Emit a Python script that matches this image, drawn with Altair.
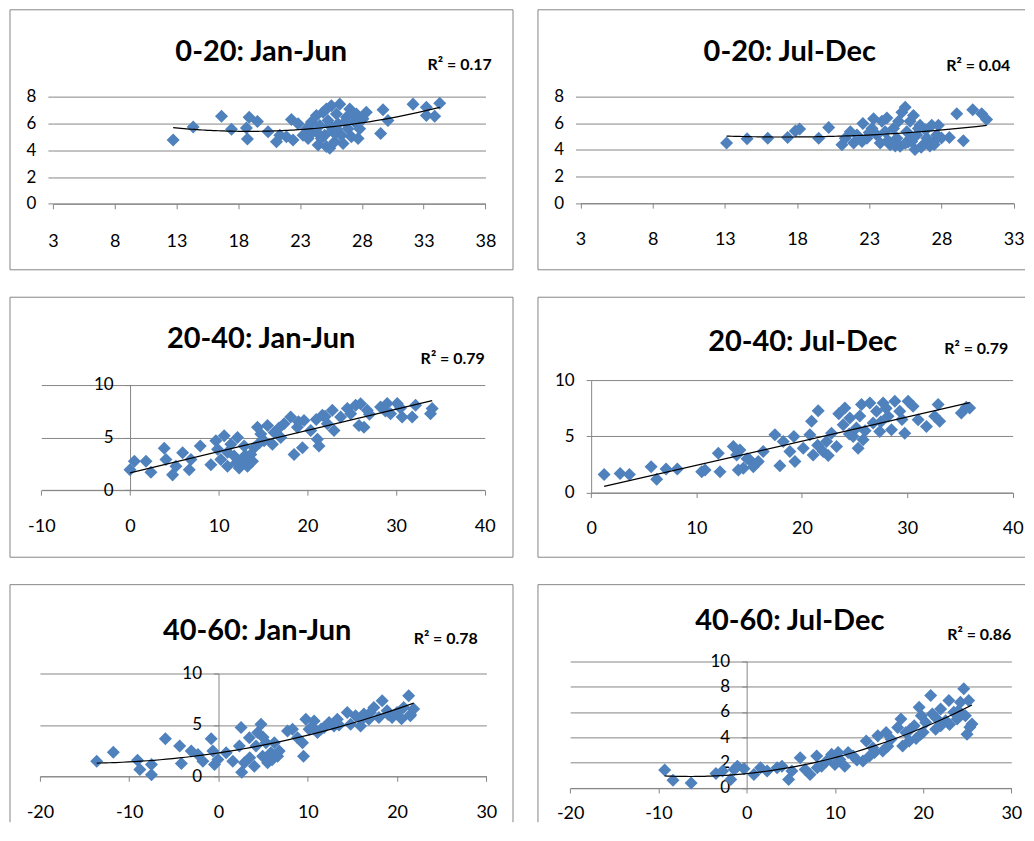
import altair as alt
import pandas as pd

BLUE = "#4F81BD"
GRAY = "#868686"
FONT = "Lato"

titles = ["0-20: Jan-Jun", "0-20: Jul-Dec", "20-40: Jan-Jun", "20-40: Jul-Dec", "40-60: Jan-Jun", "40-60: Jul-Dec"]
r2_labels = ["R² = 0.17", "R² = 0.04", "R² = 0.79", "R² = 0.79", "R² = 0.78", "R² = 0.86"]
x_ticks = [[3, 8, 13, 18, 23, 28, 33, 38], [3, 8, 13, 18, 23, 28, 33], [-10, 0, 10, 20, 30, 40],
           [0, 10, 20, 30, 40], [-20, -10, 0, 10, 20, 30], [-20, -10, 0, 10, 20, 30]]
y_ticks = [[0, 2, 4, 6, 8], [0, 2, 4, 6, 8], [0, 5, 10], [0, 5, 10], [0, 5, 10], [0, 2, 4, 6, 8, 10]]
fit = ["poly", "poly", "linear", "linear", "poly", "poly"]

p1_x = [12.73, 14.35, 16.64, 17.45, 18.66, 18.74, 18.88, 19.55, 20.41, 21.09, 21.36, 21.89, 22.3, 22.43, 22.84,
        23.24, 23.51, 23.92, 24.05, 24.32, 24.46, 24.59, 24.86, 24.99, 25.13, 25.26, 25.4, 25.53, 25.61, 25.8,
        25.94, 26.07, 26.21, 26.34, 26.48, 26.75, 26.88, 27.02, 27.15, 27.42, 27.56, 27.69, 27.82, 28.36, 29.71,
        30.11, 29.52, 32.14, 33.22, 33.22, 33.89, 34.3,
        23.65, 24.72, 25.8, 26.62, 25.4, 24.32, 27.29, 28.09, 25.13, 25.94]
p1_y = [4.76, 5.73, 6.54, 5.56, 5.66, 4.83, 6.46, 6.15, 5.37, 4.63, 5.12, 5.0, 6.29, 4.76, 5.98,
        5.12, 5.61, 6.1, 5.37, 6.59, 4.39, 5.85, 6.83, 5.12, 4.27, 6.22, 4.15, 7.32, 5.49, 4.63,
        6.71, 5.98, 7.44, 5.12, 4.51, 6.46, 5.61, 7.07, 5.0, 6.1, 6.71, 4.88, 5.61, 6.83, 7.02,
        6.22, 5.24, 7.44, 7.2, 6.59, 6.54, 7.51,
        4.88, 4.88, 5.24, 6.1, 5.85, 5.37, 6.59, 6.34, 7.07, 5.61]

p2_x = [13.12, 14.54, 15.97, 17.35, 17.88, 18.18, 19.5, 20.19, 21.11, 21.34, 21.69, 21.92, 22.15, 22.5, 22.56,
        22.84, 23.19, 23.3, 23.53, 23.76, 23.88, 24.1, 24.22, 24.45, 24.68, 24.91, 25.03, 25.14, 25.26, 25.49,
        25.6, 25.83, 25.94, 26.06, 26.17, 26.29, 26.52, 26.75, 26.99, 27.33, 27.45, 27.79, 27.68, 28.55, 29.06,
        29.52, 30.17, 30.79, 31.13,
        25.7, 26.4, 24.3, 23.0, 26.9, 27.2, 24.8, 25.5, 26.6, 27.5, 28.0, 25.9]
p2_y = [4.51, 4.83, 4.88, 4.93, 5.41, 5.56, 4.88, 5.68, 4.39, 4.88, 5.37, 4.51, 5.12, 4.63, 5.98,
        4.88, 5.61, 6.34, 5.12, 4.51, 6.15, 5.37, 6.39, 4.39, 5.61, 4.88, 6.15, 4.27, 6.83, 7.2,
        5.37, 6.15, 4.63, 6.59, 4.02, 5.12, 5.85, 4.39, 4.88, 5.85, 4.63, 5.85, 5.12, 4.93, 6.71,
        4.68, 7.02, 6.71, 6.29,
        4.6, 5.6, 4.7, 5.3, 5.5, 4.3, 4.3, 4.5, 4.2, 4.4, 4.9, 4.9]

p3_x = [0.0, 0.49, 1.8, 2.36, 3.86, 4.05, 4.8, 5.18, 5.93, 6.68, 6.87, 7.92, 9.12, 9.68, 9.87,
        10.24, 10.62, 10.99, 11.37, 11.74, 12.12, 12.31, 12.68, 12.87, 13.25, 13.62, 13.81, 14.0, 14.37, 14.75,
        15.12, 15.5, 16.06, 16.25, 17.0, 17.37, 18.12, 18.5, 18.87, 19.44, 19.62, 20.38, 21.13, 21.31, 21.69,
        22.25, 22.81, 23.0, 23.75, 24.5, 24.88, 25.44, 25.82, 26.38, 26.75, 28.25, 29.0, 29.38, 30.13, 30.68,
        31.82, 32.2, 33.88, 34.07,
        11.0, 13.0, 14.6, 16.8, 19.0, 21.0, 22.0, 26.0, 27.0, 28.8, 30.5, 12.0]
p3_y = [1.94, 2.74, 2.74, 1.71, 3.97, 2.9, 1.45, 2.26, 3.55, 1.94, 2.9, 4.19, 2.42, 4.68, 3.87,
        2.9, 5.16, 2.26, 4.35, 3.23, 5.0, 2.1, 2.9, 4.19, 2.26, 3.39, 2.74, 4.03, 5.97, 5.32,
        4.68, 6.13, 4.35, 5.48, 5.0, 6.29, 6.94, 3.39, 5.97, 4.03, 6.61, 5.65, 4.84, 4.19, 7.1,
        6.29, 7.58, 5.65, 6.94, 7.74, 7.26, 8.06, 6.13, 5.97, 7.58, 7.9, 8.23, 7.26, 8.23, 6.94,
        6.94, 8.06, 7.26, 7.74,
        3.6, 3.3, 4.5, 5.9, 6.5, 6.7, 7.0, 8.2, 7.2, 7.5, 7.8, 2.6]

p4_x = [1.23, 2.75, 3.63, 5.69, 6.22, 7.11, 8.18, 10.49, 10.81, 12.07, 12.23, 13.49, 13.81, 13.97, 14.12,
        14.44, 15.07, 15.39, 15.86, 16.33, 17.44, 17.91, 18.23, 18.86, 19.24, 19.34, 20.13, 20.76, 20.92, 21.07,
        21.55, 22.02, 22.34, 22.81, 23.29, 23.92, 24.08, 24.55, 24.87, 25.18, 25.34, 25.66, 25.81, 26.45, 26.76,
        27.08, 27.39, 27.71, 28.18, 28.5, 28.82, 29.29, 29.76, 30.08, 30.55, 31.03, 31.82, 32.61, 32.93, 33.08,
        35.13, 35.6, 35.92,
        24.5, 25.5, 26.0, 27.5, 28.0, 23.5, 29.5, 22.5, 21.5, 14.8]
p4_y = [1.61, 1.7, 1.61, 2.3, 1.19, 2.09, 2.09, 1.85, 2.0, 3.49, 1.85, 4.09, 3.34, 2.0, 3.79,
        2.15, 2.9, 2.3, 2.75, 3.64, 5.13, 2.39, 4.54, 3.64, 4.99, 2.75, 3.94, 5.13, 6.33, 3.34,
        7.28, 3.64, 4.54, 5.28, 4.09, 6.03, 7.52, 6.63, 4.99, 5.73, 3.94, 7.82, 4.69, 7.97, 6.18,
        7.22, 5.43, 7.97, 6.78, 5.58, 8.12, 7.22, 5.28, 8.12, 7.67, 6.48, 5.88, 6.78, 7.82, 6.33,
        7.07, 7.58, 7.52,
        5.2, 6.8, 5.5, 6.3, 7.5, 7.0, 6.5, 3.3, 4.2, 3.0]

p5_x = [-13.64, -11.78, -9.07, -8.81, -7.51, -7.51, -5.95, -4.35, -4.16, -3.05, -2.3, -1.75, -0.82, -0.63, -0.45,
        -0.07, 0.86, 1.6, 2.53, 2.34, 2.6, 2.9, 3.46, 4.01, 4.2, 4.39, 4.76, 4.94, 5.32, 5.5,
        5.87, 6.25, 6.62, 6.8, 7.73, 8.29, 8.85, 9.41, 9.52, 9.78, 10.15, 10.71, 11.08, 11.82, 12.38,
        12.94, 13.31, 14.42, 14.8, 15.35, 15.91, 16.28, 16.84, 17.4, 17.96, 18.33, 18.88, 19.44, 20.0, 20.74,
        21.3, 21.49, 21.86,
        3.5, 5.0, 6.0, 10.5, 11.5, 13.5, 16.0, 17.0, 19.0, 20.5, 21.5]
p5_y = [1.47, 2.35, 1.57, 0.65, 1.14, 0.16, 3.66, 2.94, 1.24, 2.45, 2.12, 1.47, 3.66, 2.45, 1.14,
        1.63, 2.29, 1.47, 4.74, 2.94, 0.39, 1.31, 3.76, 0.98, 2.94, 4.25, 5.07, 1.96, 3.27, 1.31,
        2.29, 3.27, 1.96, 2.45, 4.41, 4.58, 3.76, 3.27, 1.96, 5.56, 4.58, 5.39, 4.25, 4.74, 5.23,
        4.9, 5.56, 6.21, 5.07, 5.88, 4.9, 6.05, 5.56, 6.7, 5.72, 7.35, 6.37, 5.72, 6.21, 6.7,
        7.84, 5.88, 6.54,
        1.8, 3.8, 1.6, 4.8, 4.6, 5.0, 5.5, 6.2, 6.0, 5.6, 6.0]

p6_x = [-9.29, -8.35, -6.29, -3.48, -2.73, -1.8, -1.42, -1.05, -0.3, 0.82, 1.57, 2.32, 3.45, 4.0, 4.76,
        5.13, 6.07, 6.63, 7.19, 7.94, 8.5, 9.06, 9.63, 10.0, 10.37, 10.56, 11.12, 11.5, 12.06, 13.18,
        13.56, 13.93, 14.31, 14.87, 15.43, 15.81, 16.37, 17.12, 17.49, 17.68, 18.05, 18.43, 18.99, 19.55, 19.74,
        20.3, 20.86, 21.05, 21.42, 21.99, 22.55, 22.92, 23.48, 23.86, 24.23, 24.61, 24.79, 25.17, 24.98, 25.54,
        12.5, 14.5, 16.0, 18.5, 19.2, 20.0, 21.5, 22.0, 23.0, 24.0, 25.3, 19.8, 8.0]
p6_y = [1.41, 0.61, 0.4, 1.14, 1.33, 0.66, 1.46, 1.72, 1.51, 1.06, 1.59, 1.33, 1.59, 1.72, 0.66,
        1.33, 2.39, 1.46, 1.06, 2.52, 1.72, 2.12, 2.65, 1.86, 2.79, 2.25, 1.72, 2.79, 2.52, 2.12,
        3.71, 2.52, 3.18, 4.11, 2.92, 4.38, 3.85, 4.77, 5.44, 3.32, 4.38, 3.71, 4.91, 6.37, 4.24,
        5.17, 7.29, 5.84, 4.64, 6.23, 5.31, 6.9, 5.97, 5.44, 6.76, 7.82, 5.7, 6.9, 4.24, 5.04,
        2.2, 2.8, 3.3, 4.6, 3.9, 4.4, 5.5, 4.9, 5.0, 6.1, 4.8, 5.7, 1.6]

XS = [p1_x, p2_x, p3_x, p4_x, p5_x, p6_x]
YS = [p1_y, p2_y, p3_y, p4_y, p5_y, p6_y]

# Panel geometry in pixels. Each view is the whole bordered box (W x H);
# the data region inside it is [pl, pl+w] x [pt, pt+h]; zx = pixel offset of the y axis inside the data region.
LAYOUT = [
    dict(W=504, H=260.5, pl=43.0, pt=87.0, w=433.4, h=107.4, zx=0, ydom=False, xlp=24, sides="tlrb",
         tt=(251.7, 51.7), r2=(482.7, 60.7)),
    dict(W=488, H=260.5, pl=42.6, pt=87.0, w=434.0, h=106.7, zx=0, ydom=False, xlp=22.5, sides="tlb",
         tt=(252.3, 51.7), r2=(473.3, 61.7)),
    dict(W=504, H=260.5, pl=31.4, pt=87.7, w=444.3, h=105.6, zx=88.9, ydom=True, xlp=22, sides="tlrb",
         tt=(251.7, 51.0), r2=(475.7, 67.0)),
    dict(W=488, H=260.5, pl=53.3, pt=83.0, w=422.3, h=112.7, zx=0, ydom=True, xlp=22, sides="tlb",
         tt=(265.3, 54.0), r2=(471.3, 57.0)),
    dict(W=504, H=238, pl=30.0, pt=89.0, w=447.3, h=103.0, zx=178.9, ydom=True, xlp=22, sides="tlr",
         tt=(247.7, 55.0), r2=(468.7, 59.0)),
    dict(W=488, H=238, pl=32.3, pt=76.7, w=442.0, h=127.0, zx=176.8, ydom=True, xlp=12, sides="tl",
         tt=(252.3, 45.0), r2=(474.3, 55.0)),
]

one = alt.Data(values=[{"k": 0}])
HYPHEN_LABEL = "datum.value < 0 ? '-' + abs(datum.value) : '' + datum.value"


def rule(x1, x2, y1, y2):
    return alt.Chart(one).mark_rule(color=GRAY, strokeWidth=1).encode(
        x=alt.value(x1), x2=alt.value(x2), y=alt.value(y1), y2=alt.value(y2))


def panel(i):
    L = LAYOUT[i]
    df = pd.DataFrame({"x": XS[i], "y": YS[i]})
    base = alt.Chart(df)
    xs = alt.Scale(domain=[x_ticks[i][0], x_ticks[i][-1]], nice=False, zero=False,
                   range=[L["pl"], L["pl"] + L["w"]])
    ys = alt.Scale(domain=[y_ticks[i][0], y_ticks[i][-1]], nice=False, zero=False,
                   range=[L["pt"] + L["h"], L["pt"]])
    xaxis = alt.Axis(values=x_ticks[i], grid=False, domain=True, ticks=True, tickSize=5,
                     labelPadding=L["xlp"], labelFlush=False, labelOverlap=False, title=None,
                     labelFontSize=18, offset=-(L["H"] - L["pt"] - L["h"]), labelExpr=HYPHEN_LABEL)
    yaxis = alt.Axis(values=y_ticks[i], grid=True, domain=L["ydom"], ticks=True, tickSize=5,
                     labelPadding=12, offset=-(L["pl"] + L["zx"]), labelFlush=False, labelOverlap=False,
                     title=None, labelFontSize=17, labelExpr=HYPHEN_LABEL)
    xenc = alt.X("x:Q", scale=xs, axis=xaxis)
    yenc = alt.Y("y:Q", scale=ys, axis=yaxis)
    pts = base.mark_point(shape="square", angle=45, filled=True, size=85, color=BLUE, opacity=1).encode(
        x=xenc, y=yenc)
    if fit[i] == "poly":
        reg = base.transform_regression("x", "y", method="poly", order=2)
    else:
        reg = base.transform_regression("x", "y", method="linear")
    line = reg.mark_line(color="black", strokeWidth=1.2).encode(x=xenc, y=yenc)

    W, H = L["W"], L["H"]
    rules = []
    if "t" in L["sides"]:
        rules.append(rule(0, W, 0, 0))
    if "b" in L["sides"]:
        rules.append(rule(0, W, H, H))
    if "l" in L["sides"]:
        rules.append(rule(0, 0, 0, H))
    if "r" in L["sides"]:
        rules.append(rule(W, W, 0, H))

    title = alt.Chart(one).mark_text(text=titles[i], font=FONT, fontSize=29, fontWeight="bold",
                                     align="center", baseline="alphabetic", color="black").encode(
        x=alt.value(L["tt"][0]), y=alt.value(L["tt"][1]))
    r2 = alt.Chart(one).mark_text(text=r2_labels[i], font=FONT, fontSize=16, fontWeight="bold",
                                  align="right", baseline="alphabetic", color="black").encode(
        x=alt.value(L["r2"][0]), y=alt.value(L["r2"][1]))
    return alt.layer(*rules, pts, line, title, r2).properties(width=W, height=H)


chart = alt.concat(*[panel(i) for i in range(6)], columns=2,
                   spacing={"row": 26, "column": 23}, align="each").properties(
    padding={"left": 1, "top": 0, "right": 0, "bottom": 0}
).configure_view(strokeWidth=0).configure_axis(
    labelFont=FONT, labelColor="black", domainColor=GRAY, tickColor=GRAY, gridColor=GRAY,
    gridWidth=1, domainWidth=1, tickWidth=1
)

chart.save("out.html", embed_options={"renderer": "svg", "actions": False})
